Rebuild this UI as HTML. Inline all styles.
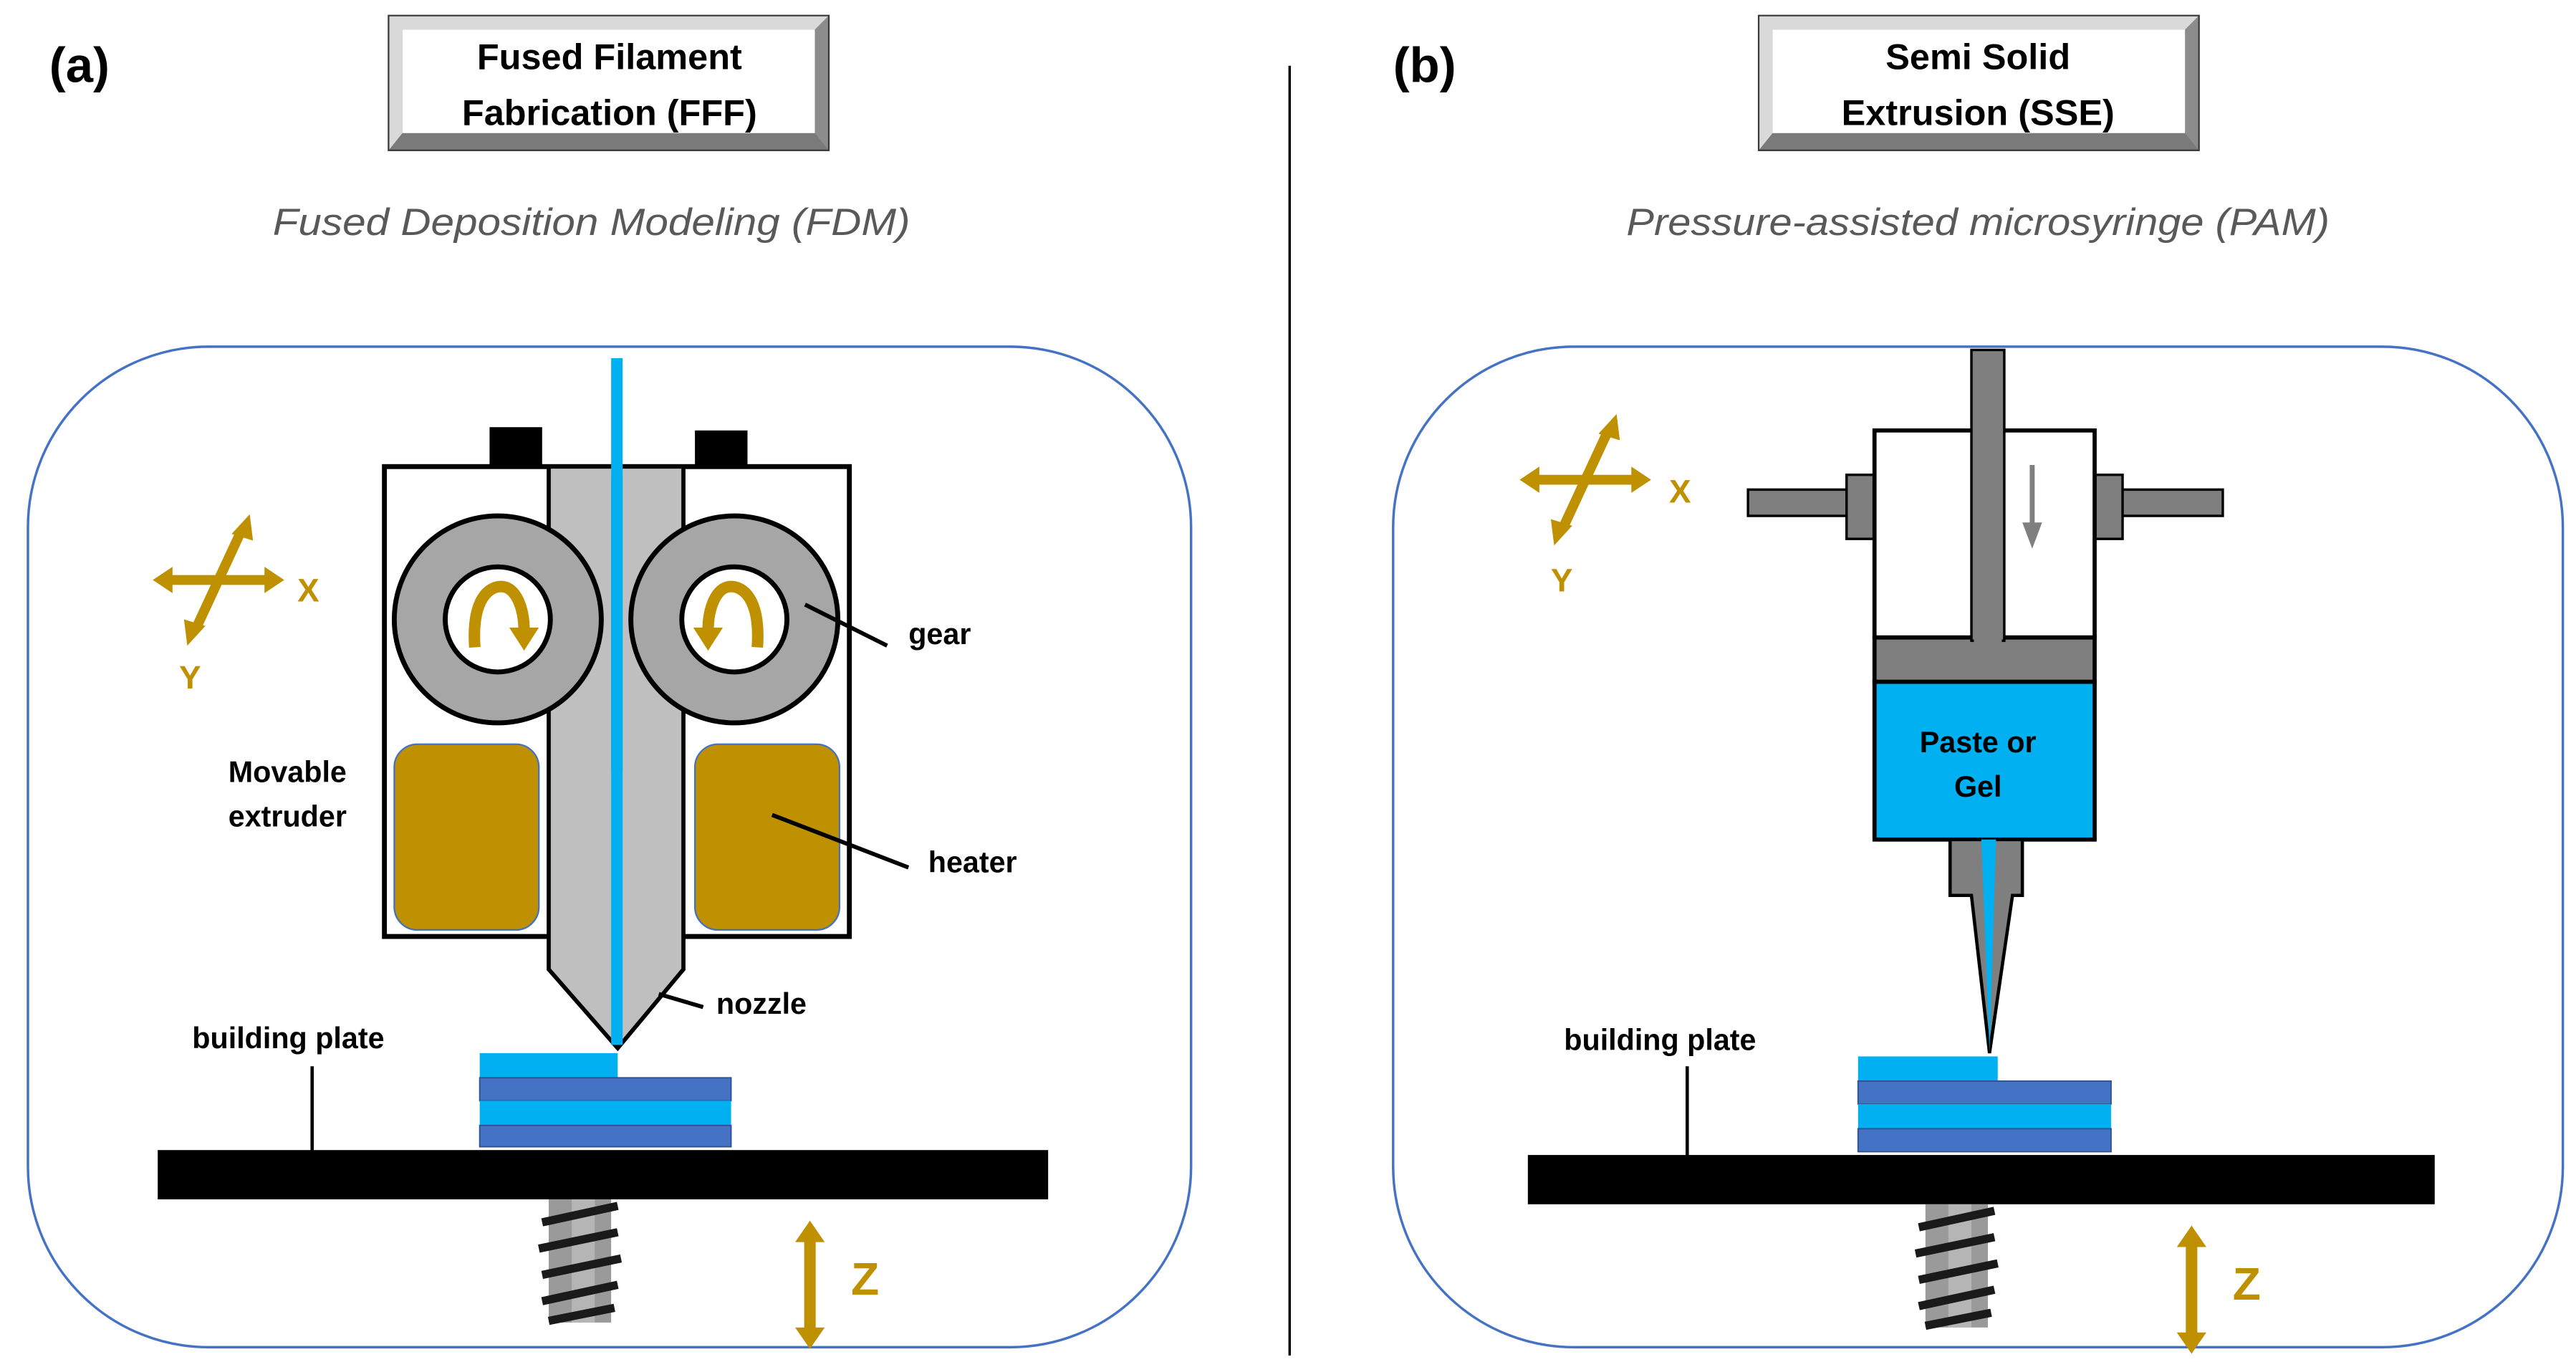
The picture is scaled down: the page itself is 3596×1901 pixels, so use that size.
<!DOCTYPE html>
<html><head><meta charset="utf-8"><style>
html,body{margin:0;padding:0;background:#fff;}
svg{display:block;}
text{font-family:"Liberation Sans",sans-serif;}
</style></head><body>
<svg width="3596" height="1901" viewBox="0 0 1568 829" preserveAspectRatio="none" xmlns="http://www.w3.org/2000/svg">
<defs>
<g id="btn">
<rect x="0" y="0" width="269" height="83" fill="#3a3a3a"/>
<polygon points="1,1 268,1 268,82 1,82" fill="#8c8c8c"/>
<polygon points="1,1 268,1 260,9 9,9 9,72 1,82" fill="#d9d9d9"/>
<polygon points="1,82 9,72 260,72 268,82" fill="#7a7a7a"/>
<rect x="9" y="9" width="251" height="63" fill="#fff"/>
</g>
<g id="xy">
<line x1="-30" y1="0" x2="30" y2="0" stroke="#bf9000" stroke-width="6"/>
<polygon points="-28,-8 -40,0 -28,8" fill="#bf9000"/>
<polygon points="28,-8 40,0 28,8" fill="#bf9000"/>
<line x1="13" y1="-28" x2="-13" y2="28" stroke="#bf9000" stroke-width="6"/>
<polygon points="8,-28 19,-40 21,-24" fill="#bf9000"/>
<polygon points="-8,28 -19,40 -21,24" fill="#bf9000"/>
</g>
<g id="screw">
<rect x="4" y="0" width="38" height="75" fill="#9a9a9a"/>
<rect x="18" y="0" width="14" height="75" fill="#c8c8c8" opacity="0.6"/>
<path d="M0,14 L46,4 M-2,30 L46,20 M0,46 L48,36 M0,62 L46,52 M4,74 L44,66" stroke="#1a1a1a" stroke-width="5"/>
</g>
<g id="zarrow">
<line x1="0" y1="8" x2="0" y2="64" stroke="#bf9000" stroke-width="7"/>
<polygon points="-9,10 0,-3 9,10" fill="#bf9000"/>
<polygon points="-9,62 0,75 9,62" fill="#bf9000"/>
</g>
</defs>

<!-- Panel (a) -->
<text x="30" y="50" font-family="Liberation Serif,serif" font-weight="bold" font-size="30">(a)</text>
<use href="#btn" x="236" y="9"/>
<text x="371" y="42" font-size="22" font-weight="bold" text-anchor="middle">Fused Filament</text>
<text x="371" y="76" font-size="22" font-weight="bold" text-anchor="middle">Fabrication (FFF)</text>
<text x="360" y="143" font-size="23" font-style="italic" fill="#595959" text-anchor="middle" textLength="388" lengthAdjust="spacingAndGlyphs">Fused Deposition Modeling (FDM)</text>

<rect x="17" y="211" width="708" height="609" rx="110" fill="none" stroke="#4472c4" stroke-width="1.5"/>
<line x1="785" y1="40" x2="785" y2="825" stroke="#000" stroke-width="1.5"/>

<rect x="298" y="260" width="32" height="25" fill="#000"/>
<rect x="423" y="262" width="32" height="23" fill="#000"/>
<rect x="234" y="284" width="283" height="286" fill="#fff" stroke="#000" stroke-width="3"/>
<polygon points="334,284 416,284 416,590 376,638 334,590" fill="#bfbfbf" stroke="#000" stroke-width="2.5"/>
<rect x="372" y="218" width="7" height="418" fill="#00b0f0"/>

<circle cx="303" cy="377" r="63" fill="#a6a6a6" stroke="#000" stroke-width="3"/>
<circle cx="303" cy="377" r="32" fill="#fff" stroke="#000" stroke-width="3"/>
<circle cx="447" cy="377" r="63" fill="#a6a6a6" stroke="#000" stroke-width="3"/>
<circle cx="447" cy="377" r="32" fill="#fff" stroke="#000" stroke-width="3"/>
<rect x="372" y="290" width="7" height="180" fill="#00b0f0"/>
<path d="M289,394 C287,364 298,357 305,357 C314,357 319,370 319,384" fill="none" stroke="#bf9000" stroke-width="7"/>
<polygon points="310,382 328,382 319,396" fill="#bf9000"/>
<path d="M461,394 C463,364 452,357 445,357 C436,357 431,370 431,384" fill="none" stroke="#bf9000" stroke-width="7"/>
<polygon points="422,382 440,382 431,396" fill="#bf9000"/>

<rect x="240" y="453" width="88" height="113" rx="14" fill="#bf9000" stroke="#4472c4" stroke-width="1"/>
<rect x="423" y="453" width="88" height="113" rx="14" fill="#bf9000" stroke="#4472c4" stroke-width="1"/>

<line x1="490" y1="368" x2="540" y2="393" stroke="#000" stroke-width="2.5"/>
<text x="553" y="392" font-size="18" font-weight="bold">gear</text>
<text x="139" y="476" font-size="18" font-weight="bold">Movable</text>
<text x="139" y="503" font-size="18" font-weight="bold">extruder</text>
<line x1="470" y1="496" x2="553" y2="528" stroke="#000" stroke-width="2.5"/>
<text x="565" y="531" font-size="18" font-weight="bold">heater</text>
<line x1="401" y1="605" x2="428" y2="613" stroke="#000" stroke-width="2.5"/>
<text x="436" y="617" font-size="18" font-weight="bold">nozzle</text>
<text x="117" y="638" font-size="18" font-weight="bold">building plate</text>
<line x1="190" y1="649" x2="190" y2="703" stroke="#000" stroke-width="2"/>

<rect x="292" y="641" width="84" height="15" fill="#00b0f0"/>
<rect x="292" y="656" width="153" height="14" fill="#4472c4" stroke="#2f528f" stroke-width="0.8"/>
<rect x="292" y="670" width="153" height="15" fill="#00b0f0"/>
<rect x="292" y="685" width="153" height="13" fill="#4472c4" stroke="#2f528f" stroke-width="0.8"/>
<rect x="96" y="700" width="542" height="30" fill="#000"/>
<use href="#screw" x="330" y="730"/>
<use href="#zarrow" x="493" y="746"/>
<text x="518" y="788" font-size="28" font-weight="bold" fill="#bf9000">Z</text>
<use href="#xy" x="133" y="353"/>
<text x="181" y="366" font-size="20" font-weight="bold" fill="#bf9000">X</text>
<text x="109" y="419" font-size="20" font-weight="bold" fill="#bf9000">Y</text>

<!-- Panel (b) -->
<text x="848" y="50" font-family="Liberation Serif,serif" font-weight="bold" font-size="30">(b)</text>
<use href="#btn" x="1070" y="9"/>
<text x="1204" y="42" font-size="22" font-weight="bold" text-anchor="middle">Semi Solid</text>
<text x="1204" y="76" font-size="22" font-weight="bold" text-anchor="middle">Extrusion (SSE)</text>
<text x="1204" y="143" font-size="23" font-style="italic" fill="#595959" text-anchor="middle" textLength="428" lengthAdjust="spacingAndGlyphs">Pressure-assisted microsyringe (PAM)</text>

<rect x="848" y="211" width="712" height="609" rx="110" fill="none" stroke="#4472c4" stroke-width="1.5"/>

<rect x="1064" y="298" width="62" height="16" fill="#7f7f7f" stroke="#000" stroke-width="1.5"/>
<rect x="1124" y="289" width="18" height="39" fill="#7f7f7f" stroke="#000" stroke-width="1.5"/>
<rect x="1291" y="298" width="62" height="16" fill="#7f7f7f" stroke="#000" stroke-width="1.5"/>
<rect x="1274" y="289" width="18" height="39" fill="#7f7f7f" stroke="#000" stroke-width="1.5"/>
<rect x="1141" y="262" width="134" height="126" fill="#fff" stroke="#000" stroke-width="2.5"/>
<rect x="1141" y="388" width="134" height="27" fill="#7f7f7f" stroke="#000" stroke-width="2.5"/>
<rect x="1200" y="213" width="20" height="177" fill="#7f7f7f" stroke="#000" stroke-width="1.5"/>
<rect x="1201.5" y="380" width="17" height="12" fill="#7f7f7f"/>
<line x1="1237" y1="283" x2="1237" y2="322" stroke="#7f7f7f" stroke-width="3"/>
<polygon points="1231,318 1243,318 1237,334" fill="#7f7f7f"/>
<rect x="1141" y="415" width="134" height="96" fill="#00b0f0" stroke="#000" stroke-width="2.5"/>
<text x="1204" y="458" font-size="18" font-weight="bold" text-anchor="middle">Paste or</text>
<text x="1204" y="485" font-size="18" font-weight="bold" text-anchor="middle">Gel</text>
<polygon points="1187,511 1231,511 1231,545 1225,545 1211,641 1200,545 1187,545" fill="#7f7f7f" stroke="#000" stroke-width="2"/>
<polygon points="1206,511 1215,511 1211,640" fill="#00b0f0"/>

<text x="952" y="639" font-size="18" font-weight="bold">building plate</text>
<line x1="1027" y1="649" x2="1027" y2="705" stroke="#000" stroke-width="2"/>
<rect x="1131" y="643" width="85" height="15" fill="#00b0f0"/>
<rect x="1131" y="658" width="154" height="14" fill="#4472c4" stroke="#2f528f" stroke-width="0.8"/>
<rect x="1131" y="672" width="154" height="15" fill="#00b0f0"/>
<rect x="1131" y="687" width="154" height="14" fill="#4472c4" stroke="#2f528f" stroke-width="0.8"/>
<rect x="930" y="703" width="552" height="30" fill="#000"/>
<use href="#screw" x="1168" y="733"/>
<use href="#zarrow" x="1334" y="749"/>
<text x="1359" y="791" font-size="28" font-weight="bold" fill="#bf9000">Z</text>
<use href="#xy" x="965" y="292"/>
<text x="1016" y="306" font-size="20" font-weight="bold" fill="#bf9000">X</text>
<text x="944" y="360" font-size="20" font-weight="bold" fill="#bf9000">Y</text>
</svg>
</body></html>
